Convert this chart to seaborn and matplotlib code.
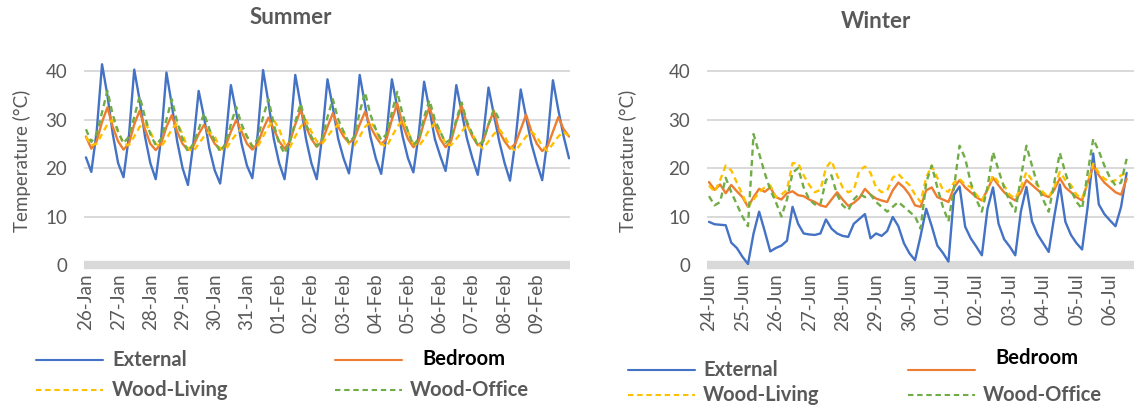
import numpy as np
import pandas as pd
import matplotlib
matplotlib.use('Agg')
import matplotlib.pyplot as plt
from matplotlib.lines import Line2D
import seaborn as sns

# Readings every 4 hours.
summer_days = ['26-Jan', '27-Jan', '28-Jan', '29-Jan', '30-Jan', '31-Jan', '01-Feb', '02-Feb',
               '03-Feb', '04-Feb', '05-Feb', '06-Feb', '07-Feb', '08-Feb', '09-Feb']
summer_external = [
    22.2, 19.2, 27.5, 41.4, 35.0, 27.0,
    21.0, 18.1, 26.5, 40.3, 34.0, 26.5,
    21.0, 17.7, 26.0, 39.7, 33.0, 25.5,
    20.0, 16.5, 25.0, 35.9, 30.5, 24.0,
    19.5, 16.8, 25.5, 37.1, 31.5, 25.0,
    20.5, 17.9, 27.0, 40.2, 33.5, 26.0,
    21.0, 17.7, 26.5, 39.2, 33.0, 26.0,
    21.0, 17.7, 26.5, 38.3, 32.5, 26.0,
    22.0, 18.9, 27.0, 39.2, 33.0, 26.5,
    22.0, 18.8, 27.0, 38.3, 32.5, 26.5,
    22.0, 19.1, 27.0, 37.8, 32.0, 26.0,
    22.5, 19.4, 27.0, 37.1, 31.5, 26.0,
    22.0, 18.6, 26.5, 36.6, 31.0, 25.5,
    21.0, 17.4, 25.5, 36.2, 30.5, 25.0,
    21.0, 17.5, 26.0, 38.1, 32.0, 26.5,
    22.0]
summer_bedroom = [
    26.5, 24.0, 25.5, 29.5, 32.5, 28.5,
    25.5, 23.8, 25.0, 29.0, 31.8, 28.0,
    25.0, 23.7, 25.0, 28.5, 30.9, 27.5,
    25.0, 23.7, 24.5, 27.0, 28.9, 27.0,
    25.0, 23.8, 24.5, 27.5, 29.9, 27.5,
    25.0, 23.8, 25.0, 28.0, 30.4, 28.0,
    25.5, 24.0, 25.5, 29.0, 32.0, 28.5,
    26.0, 24.4, 25.5, 28.5, 31.3, 28.5,
    26.5, 25.2, 26.0, 29.0, 31.6, 28.5,
    26.5, 24.9, 26.0, 30.0, 33.3, 29.0,
    26.0, 24.3, 25.5, 29.5, 32.6, 29.0,
    26.0, 24.3, 25.5, 29.5, 32.8, 29.0,
    26.5, 24.7, 25.5, 29.0, 31.8, 27.5,
    25.5, 24.0, 25.0, 28.0, 31.0, 27.5,
    25.0, 23.5, 24.5, 27.5, 30.5, 28.0,
    26.5]
summer_wood_living = [
    26.5, 24.7, 25.0, 27.0, 29.0, 29.9,
    27.5, 25.0, 24.7, 26.5, 28.5, 29.2,
    27.5, 25.0, 24.4, 26.0, 28.0, 29.2,
    27.0, 24.0, 23.4, 25.0, 26.5, 27.5,
    26.5, 24.0, 23.7, 25.5, 27.0, 28.2,
    26.5, 24.5, 24.4, 26.5, 28.5, 29.9,
    28.0, 25.0, 24.3, 26.5, 28.5, 29.9,
    27.5, 25.5, 25.0, 26.5, 28.0, 28.9,
    27.5, 25.0, 24.7, 26.5, 28.5, 29.5,
    28.0, 25.0, 24.4, 26.5, 28.5, 29.9,
    27.5, 25.0, 24.5, 26.0, 28.0, 29.2,
    27.5, 25.0, 24.7, 26.0, 27.5, 28.9,
    27.0, 25.0, 24.0, 25.5, 27.0, 28.0,
    26.5, 24.5, 23.5, 25.0, 26.5, 27.5,
    26.5, 24.5, 23.5, 25.0, 26.5, 27.5,
    26.5]
summer_wood_office = [  # logger stops on 07-Feb
    28.0, 25.4, 27.0, 31.5, 35.9, 31.0,
    27.5, 25.1, 26.5, 30.5, 34.8, 30.5,
    27.0, 24.7, 26.0, 30.0, 34.2, 29.5,
    26.0, 23.4, 25.0, 28.0, 31.3, 28.0,
    25.5, 23.4, 25.0, 29.0, 32.6, 29.0,
    26.5, 24.4, 26.0, 30.5, 34.2, 29.0,
    25.0, 23.0, 25.5, 29.5, 33.3, 29.0,
    26.5, 24.5, 26.0, 30.5, 34.2, 30.0,
    27.5, 25.2, 26.5, 31.5, 35.6, 31.0,
    28.0, 25.8, 27.0, 31.5, 35.7, 31.0,
    27.5, 24.7, 26.0, 30.5, 34.0, 30.0,
    27.5, 25.2, 26.0, 30.0, 33.5, 29.5,
    27.0, 24.7, 25.5, 29.0, 32.1, 30.0]

winter_days = ['24-Jun', '25-Jun', '26-Jun', '27-Jun', '28-Jun', '29-Jun', '30-Jun',
               '01-Jul', '02-Jul', '03-Jul', '04-Jul', '05-Jul', '06-Jul']
winter_external = [
    8.9, 8.4, 8.3, 8.2, 4.6, 3.5,
    1.7, 0.2, 6.5, 11.0, 7.0, 2.8,
    3.5, 4.0, 5.0, 12.0, 8.5, 6.5,
    6.3, 6.2, 6.5, 9.4, 7.5, 6.5,
    6.0, 5.8, 8.5, 9.5, 10.5, 5.5,
    6.5, 6.0, 7.0, 9.9, 8.0, 4.5,
    2.4, 1.0, 6.0, 11.6, 8.0, 4.0,
    2.5, 0.7, 14.5, 16.2, 7.9, 5.5,
    3.8, 2.0, 11.5, 16.0, 8.5, 5.3,
    3.8, 2.0, 11.0, 16.1, 9.0, 6.3,
    4.5, 2.7, 10.0, 16.6, 8.9, 6.2,
    4.5, 3.2, 12.0, 23.0, 12.5, 10.5,
    9.2, 8.0, 12.0, 19.0]
winter_bedroom = [
    17.1, 15.5, 16.6, 14.8, 16.5, 15.2,
    14.0, 12.0, 14.0, 15.7, 15.1, 16.0,
    14.0, 13.5, 14.8, 15.2, 14.4, 14.2,
    13.5, 13.0, 12.3, 12.0, 13.5, 15.0,
    13.5, 12.2, 12.8, 13.8, 15.7, 14.5,
    13.7, 13.3, 13.0, 15.4, 17.0, 16.0,
    14.5, 12.3, 12.0, 15.4, 16.0, 14.0,
    13.5, 13.0, 16.0, 17.5, 16.0, 15.0,
    14.0, 13.3, 15.5, 18.0, 16.4, 15.0,
    14.0, 13.3, 15.0, 17.5, 16.5, 15.5,
    14.5, 14.0, 15.5, 17.9, 16.0, 15.0,
    14.0, 13.3, 17.0, 20.5, 18.5, 17.0,
    16.0, 15.0, 14.5, 17.8]
winter_wood_living = [
    16.4, 15.1, 17.5, 20.5, 19.5, 17.0,
    14.5, 12.0, 13.5, 15.0, 16.0, 16.4,
    14.0, 14.5, 15.5, 21.0, 21.0, 18.5,
    16.5, 15.0, 15.5, 20.0, 21.5, 18.5,
    16.0, 15.0, 15.5, 19.5, 20.3, 19.0,
    16.0, 15.0, 15.4, 18.0, 18.8, 17.5,
    16.5, 14.5, 13.0, 18.0, 20.5, 18.0,
    15.5, 15.1, 17.0, 17.8, 16.5, 16.1,
    14.5, 13.3, 15.5, 18.5, 17.0, 16.4,
    14.5, 13.7, 16.0, 19.2, 17.5, 16.5,
    15.0, 14.0, 16.0, 19.2, 17.5, 16.5,
    14.5, 13.7, 17.0, 20.9, 19.0, 17.8,
    17.1, 17.5, 18.5, 19.0]
winter_wood_office = [
    14.2, 12.3, 13.0, 18.0, 15.0, 12.5,
    10.0, 8.0, 27.0, 23.0, 19.0, 15.5,
    13.0, 10.0, 13.5, 19.0, 20.0, 16.0,
    13.5, 12.5, 12.5, 17.5, 18.5, 14.5,
    12.3, 11.3, 13.5, 14.7, 14.0, 14.5,
    13.0, 12.0, 11.0, 12.0, 13.0, 12.0,
    11.0, 10.0, 7.5, 17.0, 20.5, 16.0,
    12.0, 9.0, 16.0, 24.6, 22.0, 17.0,
    13.5, 11.0, 16.0, 23.3, 19.5, 16.0,
    13.0, 11.0, 18.0, 24.6, 20.5, 16.5,
    13.5, 11.0, 17.0, 23.1, 19.0, 15.5,
    13.0, 11.6, 19.0, 26.0, 23.5, 20.5,
    18.0, 16.4, 17.0, 21.9]

series_names = ['External', 'Bedroom', 'Wood-Living', 'Wood-Office']
palette = {'External': '#4472C4', 'Bedroom': '#ED7D31',
           'Wood-Living': '#FFC000', 'Wood-Office': '#70AD47'}
dashes = {'External': '', 'Bedroom': '', 'Wood-Living': (2.6, 1.8), 'Wood-Office': (2.6, 1.8)}
GREY = '#595959'
GRID = '#D9D9D9'


def to_long(values_list):
    '''Stack the series into one long table, 6 readings per day.'''
    frames = []
    for name, vals in zip(series_names, values_list):
        frames.append(pd.DataFrame({'day': np.arange(len(vals)) / 6.0,
                                    'temp': vals, 'series': name}))
    return pd.concat(frames, ignore_index=True)


sns.set_style('white')
plt.rcParams['font.family'] = ['Lato', 'DejaVu Sans']

W, H = 1134, 407
fig = plt.figure(figsize=(W / 100, H / 100), dpi=100)


def px_axes(x0, x1, y_top, y_bot):
    return fig.add_axes([x0 / W, 1 - y_bot / H, (x1 - x0) / W, (y_bot - y_top) / H])


def draw_panel(ax, df, days, xlim, label_x):
    sns.lineplot(data=df, x='day', y='temp', hue='series', style='series',
                 palette=palette, dashes=dashes, estimator=None, sort=False,
                 linewidth=1.7, legend=False, ax=ax)
    ax.set_xlim(*xlim)
    ax.set_ylim(0, 43)
    ax.set_yticks([0, 10, 20, 30, 40])
    ax.set_xticks(range(len(days)))
    ax.set_xticklabels(days, rotation=90)
    for y in [10, 20, 30, 40]:
        ax.axhline(y, color=GRID, lw=1.4, zorder=0)
    ax.axhline(0, color=GRID, lw=6, zorder=0, clip_on=False, solid_capstyle='butt')
    for s in ax.spines.values():
        s.set_visible(False)
    ax.tick_params(axis='both', length=0, labelcolor=GREY, labelsize=13.5)
    ax.tick_params(axis='x', pad=6)
    ax.tick_params(axis='y', pad=12)
    ax.set_xlabel('')
    ax.set_ylabel('Temperature (°C)', color=GREY, fontsize=13.5)
    ax.yaxis.set_label_coords(label_x, 0.5)


def draw_legend(col1, col2, row1, row2, bedroom_y, text_gap1, text_gap2):
    hl = 67
    entries = [('External', col1, row1, text_gap1, row1),
               ('Bedroom', col2, row1, text_gap2 + 12, bedroom_y),
               ('Wood-Living', col1, row2, text_gap1, row2),
               ('Wood-Office', col2, row2, text_gap2, row2)]
    for name, x0, y, gap, ty in entries:
        ls = '-' if dashes[name] == '' else (0, dashes[name])
        fig.add_artist(Line2D([x0 / W, (x0 + hl) / W], [1 - y / H, 1 - y / H],
                              color=palette[name], lw=1.5, linestyle=ls))
        fig.text((x0 + hl + gap) / W, 1 - ty / H, name, ha='left', va='center',
                 fontsize=14.5, fontweight='bold',
                 color='black' if name == 'Bedroom' else GREY)


# Summer
ax1 = px_axes(84, 570, 56.5, 265)
draw_panel(ax1, to_long([summer_external, summer_bedroom, summer_wood_living, summer_wood_office]),
           summer_days, (-0.06, 15.03), -0.11)
fig.text(291 / W, 1 - 18 / H, 'Summer', ha='center', va='center',
         fontsize=16, fontweight='bold', color=GREY)
draw_legend(36, 335, 360, 390, 359, 9, 8)

# Winter
ax2 = px_axes(707, 1134, 56.5, 265)
draw_panel(ax2, to_long([winter_external, winter_bedroom, winter_wood_living, winter_wood_office]),
           winter_days, (-0.06, 12.72), -0.165)
fig.text(876 / W, 1 - 22 / H, 'Winter', ha='center', va='center',
         fontsize=16, fontweight='bold', color=GREY)
draw_legend(628, 908, 370, 395, 358, 8, 8)

fig.savefig('out.png', dpi=100)
